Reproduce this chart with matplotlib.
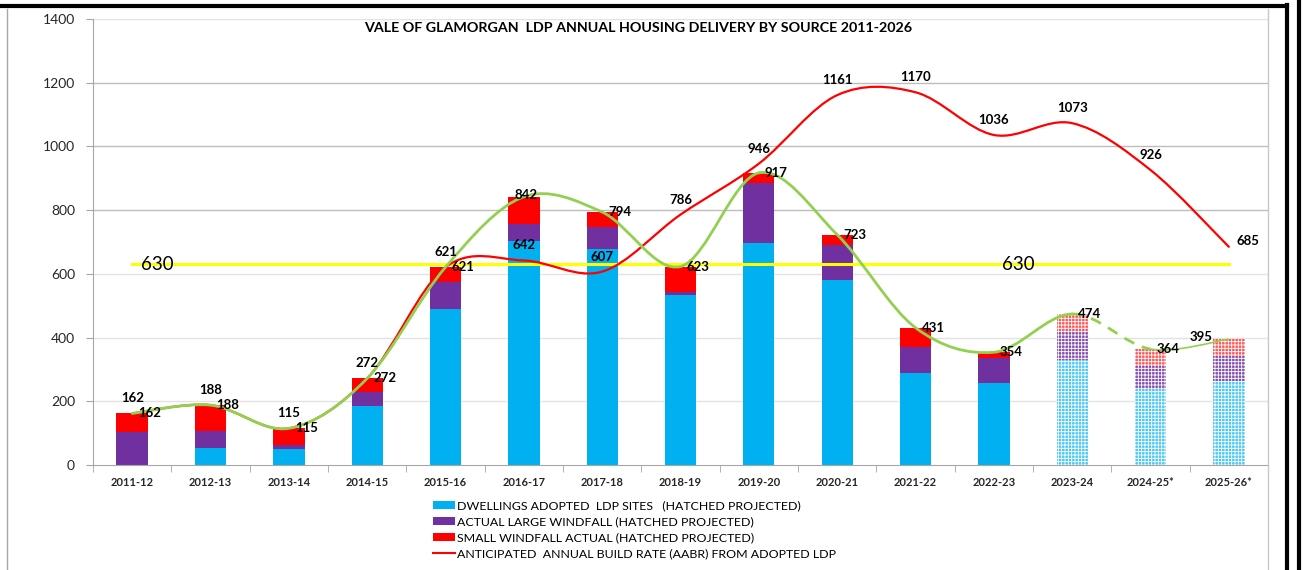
import matplotlib
matplotlib.use("Agg")
import matplotlib.pyplot as plt
from matplotlib.path import Path
from matplotlib.patches import PathPatch, Patch
from matplotlib.lines import Line2D
from matplotlib.colors import to_rgb
import numpy as np

plt.rcParams['font.family'] = ['Lato', 'DejaVu Sans']

# ---------------- data ----------------
categories = ['2011-12', '2012-13', '2013-14', '2014-15', '2015-16', '2016-17', '2017-18',
              '2018-19', '2019-20', '2020-21', '2021-22', '2022-23', '2023-24', '2024-25*', '2025-26*']
ldp_sites = [0, 54, 50, 186, 490, 703, 678, 534, 698, 581, 289, 258, 330, 238, 263]
large_windfall = [105, 54, 12, 43, 84, 53, 70, 10, 186, 109, 81, 78, 87, 72, 79]
small_windfall = [57, 80, 53, 43, 47, 86, 46, 79, 33, 33, 61, 18, 57, 54, 53]
total_delivery = [162, 188, 115, 272, 621, 842, 794, 623, 917, 723, 431, 354, 474, 364, 395]
aabr = [162, 188, 115, 272, 621, 642, 607, 786, 946, 1161, 1170, 1036, 1073, 926, 685]
projected = [False] * 12 + [True] * 3
target = 630
target_label = '630'
yticks = [0, 200, 400, 600, 800, 1000, 1200, 1400]

title = 'VALE OF GLAMORGAN  LDP ANNUAL HOUSING DELIVERY BY SOURCE 2011-2026'
legend_labels = ['DWELLINGS ADOPTED  LDP SITES   (HATCHED PROJECTED)',
                 'ACTUAL LARGE WINDFALL (HATCHED PROJECTED)',
                 'SMALL WINDFALL ACTUAL (HATCHED PROJECTED)',
                 'ANTICIPATED  ANNUAL BUILD RATE (AABR) FROM ADOPTED LDP']

# ---------------- styles ----------------
C_BLUE = '#00B0F0'
C_PURPLE = '#7030A0'
C_RED = '#FF0000'
C_GREEN = '#92D050'
C_YELLOW = '#FFFF00'

W, H = 1303, 570
fig = plt.figure(figsize=(W / 100, H / 100), dpi=100)
fig.patch.set_facecolor('white')

def fx(px):
    return px / W

def fy(py):
    return 1 - py / H

def lighten(c, f):
    r, g, b = to_rgb(c)
    return (r + (1 - r) * f, g + (1 - g) * f, b + (1 - b) * f)

ax = fig.add_axes([fx(93), fy(465), fx(1268) - fx(93), fy(19) - fy(465)])
ax.set_xlim(-0.5, len(categories) - 0.5)
ax.set_ylim(0, 1400)

x = np.arange(len(categories))
bw = 0.4

plt.rcParams['hatch.linewidth'] = 0.6

def draw_stack(vals, bottoms, color, light):
    for i, (v, b) in enumerate(zip(vals, bottoms)):
        if v <= 0:
            continue
        if projected[i]:
            ax.bar(x[i], v, bw, bottom=b, facecolor=lighten(color, light), edgecolor='white',
                   hatch='+++++', linewidth=0, zorder=2)
        else:
            ax.bar(x[i], v, bw, bottom=b, color=color, linewidth=0, zorder=2)

b0 = np.zeros(len(categories))
draw_stack(ldp_sites, b0, C_BLUE, 0.3)
b1 = b0 + np.array(ldp_sites)
draw_stack(large_windfall, b1, C_PURPLE, 0.15)
b2 = b1 + np.array(large_windfall)
draw_stack(small_windfall, b2, C_RED, 0.35)

# grid
for t in yticks:
    col = '#BDBDBD' if 800 <= t <= 1200 else '#E3E3E3'
    if t == 0:
        continue
    ax.axhline(t, color=col, lw=1.0, zorder=0)

# target line
ax.plot([x[0], x[-1]], [target, target], color=C_YELLOW, lw=2.2, zorder=3)

# Excel-like smoothed line via cubic Bezier (library renders curve)
def bezier_segments(xs, ys):
    n = len(xs)
    segs = []
    for i in range(n - 1):
        p0 = np.array([xs[i], ys[i]], float)
        p1 = np.array([xs[i + 1], ys[i + 1]], float)
        pm = np.array([xs[i - 1], ys[i - 1]], float) if i > 0 else p0
        pp = np.array([xs[i + 2], ys[i + 2]], float) if i + 2 < n else p1
        c1 = p0 + (p1 - pm) / 6.0
        c2 = p1 - (pp - p0) / 6.0
        segs.append([p0, c1, c2, p1])
    return segs

def path_from(segs):
    verts = [segs[0][0]]
    codes = [Path.MOVETO]
    for s in segs:
        verts += [s[1], s[2], s[3]]
        codes += [Path.CURVE4] * 3
    return Path(verts, codes)

red_segs = bezier_segments(x, aabr)
ax.add_patch(PathPatch(path_from(red_segs), facecolor='none', edgecolor=C_RED, lw=1.6,
                       zorder=4, capstyle='round', joinstyle='round'))

green_segs = bezier_segments(x, total_delivery)
ax.add_patch(PathPatch(path_from(green_segs[:12]), facecolor='none', edgecolor=C_GREEN, lw=2.0,
                       zorder=5, capstyle='round'))
ax.add_patch(PathPatch(path_from(green_segs[12:13]), facecolor='none', edgecolor=C_GREEN, lw=2.0,
                       zorder=5, linestyle=(0, (4, 3))))
ax.add_patch(PathPatch(path_from(green_segs[13:]), facecolor='none', edgecolor=C_GREEN, lw=1.2,
                       zorder=5))

# labels
lab_kw = dict(fontsize=9.5, fontweight='bold', color='black', textcoords='offset pixels', zorder=6)
for i, v in enumerate(aabr):
    if i == len(aabr) - 1:
        ax.annotate(str(v), (x[i], v), xytext=(8, 6), ha='left', va='center', **lab_kw)
    else:
        ax.annotate(str(v), (x[i], v), xytext=(0, 15), ha='center', va='center', **lab_kw)

for i, v in enumerate(total_delivery):
    if i == len(total_delivery) - 1:
        ax.annotate(str(v), (x[i], v), xytext=(-16, 2), ha='right', va='center', **lab_kw)
    elif i == 5:
        ax.annotate(str(v), (x[i], v), xytext=(2, 2), ha='center', va='center', **lab_kw)
    else:
        ax.annotate(str(v), (x[i], v), xytext=(6, 0), ha='left', va='center', **lab_kw)

ax.annotate(target_label, (x[0], target), xytext=(25, 0), textcoords='offset pixels',
            ha='center', va='center', fontsize=13.5, zorder=6)
ax.annotate(target_label, (x[11], target), xytext=(24, 0), textcoords='offset pixels',
            ha='center', va='center', fontsize=13.5, zorder=6)

# axes styling
for s in ['top', 'right']:
    ax.spines[s].set_visible(False)
ax.spines['left'].set_color('#A6A6A6')
ax.spines['bottom'].set_color('#A6A6A6')
ax.set_yticks(yticks)
ax.set_yticklabels([str(t) for t in yticks], fontsize=10, color='#262626')
ax.tick_params(axis='y', length=5, color='#A6A6A6', pad=8)
ax.set_xticks(x)
ax.set_xticklabels(categories, fontsize=8, fontweight='bold', color='#262626')
ax.tick_params(axis='x', length=0, pad=9)
ax.set_xticks(np.arange(-0.5, len(categories), 1.0), minor=True)
ax.tick_params(axis='x', which='minor', length=5, color='#A6A6A6')

fig.text(fx(638), fy(28), title, ha='center', va='center', fontsize=10.3, fontweight='bold')

handles = [Patch(facecolor=C_BLUE), Patch(facecolor=C_PURPLE), Patch(facecolor=C_RED),
           Line2D([0], [0], color=C_RED, lw=1.5)]
fig.legend(handles, legend_labels, loc='upper left', bbox_to_anchor=(fx(433), fy(500)),
           frameon=False, fontsize=8.9, handlelength=1.8, handleheight=0.6,
           labelspacing=0.42, handletextpad=0.15, borderpad=0, borderaxespad=0)

# outer frame lines
fig.add_artist(Line2D([0, fx(1287)], [fy(6), fy(6)], color='black', lw=3))
fig.add_artist(Line2D([fx(7), fx(7)], [fy(9), 0], color='#A6A6A6', lw=1))
fig.add_artist(Line2D([fx(1268), fx(1268)], [fy(9), 0], color='#C8C8C8', lw=1))
fig.add_artist(Line2D([fx(1287), fx(1287)], [fy(5), 0], color='black', lw=3))
fig.add_artist(Line2D([fx(1299), fx(1299)], [1, 0], color='black', lw=3))

fig.savefig('out.png', dpi=100)
